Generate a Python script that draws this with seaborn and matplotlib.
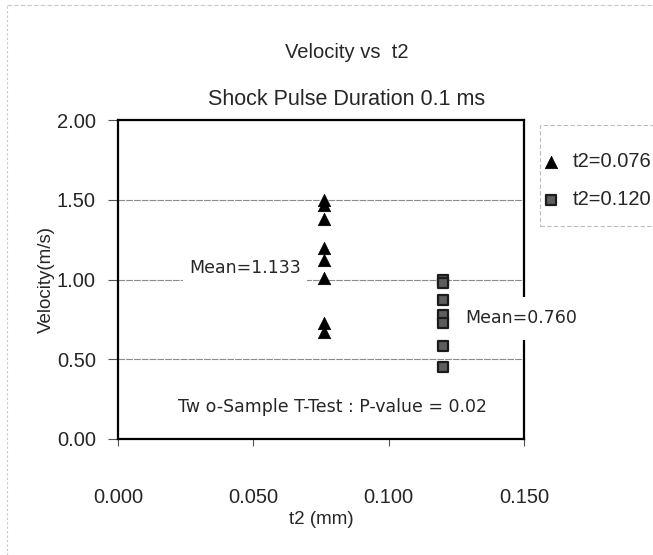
import matplotlib
matplotlib.use("Agg")
import matplotlib.pyplot as plt
from matplotlib.lines import Line2D
from matplotlib.patches import Rectangle
import pandas as pd
import seaborn as sns

# Measured velocities for the two t2 settings
t2_short = 0.076
t2_long = 0.120
vel_short = [1.50, 1.47, 1.38, 1.20, 1.12, 1.01, 0.73, 0.67]
vel_long = [1.00, 0.98, 0.87, 0.78, 0.73, 0.58, 0.45]
group_labels = ["t2=0.076", "t2=0.120"]

title_text = "Velocity vs  t2"
subtitle_text = "Shock Pulse Duration 0.1 ms"
mean_short_text = "Mean=1.133"
mean_long_text = "Mean=0.760"
test_text = "Tw o-Sample T-Test : P-value = 0.02"
x_ticks = [0.000, 0.050, 0.100, 0.150]
y_ticks = [0.00, 0.50, 1.00, 1.50, 2.00]

df = pd.DataFrame({
    "t2": [t2_short] * len(vel_short) + [t2_long] * len(vel_long),
    "velocity": vel_short + vel_long,
    "group": [group_labels[0]] * len(vel_short) + [group_labels[1]] * len(vel_long),
})

sns.set_style("white")
plt.rcParams["font.family"] = ["Liberation Sans", "DejaVu Sans"]

W, H = 653, 555
fig = plt.figure(figsize=(W / 100, H / 100), dpi=100)
fig.patch.set_facecolor("white")
ax = fig.add_axes([118 / W, 1 - 439 / H, 406 / W, 319 / H])

# outer chart-area border (top and left edges)
fig.add_artist(Line2D([7 / W, 1.0], [1 - 5 / H, 1 - 5 / H], transform=fig.transFigure,
                      color="#c8c8c8", lw=0.8, ls=(0, (4, 2))))
fig.add_artist(Line2D([7 / W, 7 / W], [0.0, 1 - 5 / H], transform=fig.transFigure,
                      color="#c8c8c8", lw=0.8, ls=(0, (2, 2))))

sns.scatterplot(data=df[df["group"] == group_labels[0]], x="t2", y="velocity",
                marker="^", s=80, color="black", edgecolor="black", linewidth=0.5,
                label=group_labels[0], ax=ax, zorder=3)
sns.scatterplot(data=df[df["group"] == group_labels[1]], x="t2", y="velocity",
                marker="s", s=60, color="#5e5e5e", edgecolor="#1c1c1c", linewidth=1.6,
                label=group_labels[1], ax=ax, zorder=3)

ax.set_xlim(0, 0.15)
ax.set_ylim(0, 2.0)
ax.set_xticks(x_ticks)
ax.set_yticks(y_ticks)
ax.set_xticklabels([f"{v:.3f}" for v in x_ticks])
ax.set_yticklabels([f"{v:.2f}" for v in y_ticks])
ax.yaxis.grid(True, color="#8a8a8a", lw=0.8, ls=(0, (6, 1)))
ax.xaxis.grid(False)
ax.set_axisbelow(True)
for sp in ax.spines.values():
    sp.set_color("black")
    sp.set_linewidth(1.6)
ax.tick_params(axis="y", which="major", direction="out", length=7, width=0.8,
               color="#555555", left=True, labelsize=14.5, pad=9)
ax.tick_params(axis="x", which="major", direction="out", length=5, width=0.8,
               color="#555555", bottom=True, labelsize=14.5, pad=30)
ax.set_xlabel("t2 (mm)", fontsize=13.5, labelpad=3)
ax.set_ylabel("Velocity(m/s)", fontsize=13.5, labelpad=1)

fig.text(347 / W, 1 - 52 / H, title_text, ha="center", va="center", fontsize=14.5)
fig.text(347 / W, 1 - 100 / H, subtitle_text, ha="center", va="center", fontsize=15.5)

ax.text(0.0469, 1.07, mean_short_text, ha="center", va="center", fontsize=12.5,
        family="DejaVu Sans", zorder=4,
        bbox=dict(boxstyle="square,pad=0.35", fc="white", ec="none"))
ax.text(0.1282, 0.756, mean_long_text, ha="left", va="center", fontsize=12.5,
        family="DejaVu Sans", zorder=5, clip_on=False,
        bbox=dict(boxstyle="square,pad=0.7", fc="white", ec="none"))
ax.text(0.0791, 0.20, test_text, ha="center", va="center", fontsize=12.5,
        family="DejaVu Sans", zorder=4)

# legend box: dashed frame running past the right edge of the figure
fig.add_artist(Rectangle((540 / W, 1 - 226 / H), 140 / W, 101 / H,
                         transform=fig.transFigure, fill=True, fc="white",
                         ec="#bdbdbd", lw=0.8, ls=(0, (4, 2)), zorder=-1))
leg = ax.legend(loc="upper left", bbox_to_anchor=(543 / W, 1 - 152 / H),
                bbox_transform=fig.transFigure, frameon=False,
                fontsize=14.5, handlelength=0.8, handletextpad=0.7,
                borderpad=0, labelspacing=0.95, borderaxespad=0)
leg.set_zorder(6)

fig.savefig("out.png", dpi=100, facecolor="white")
